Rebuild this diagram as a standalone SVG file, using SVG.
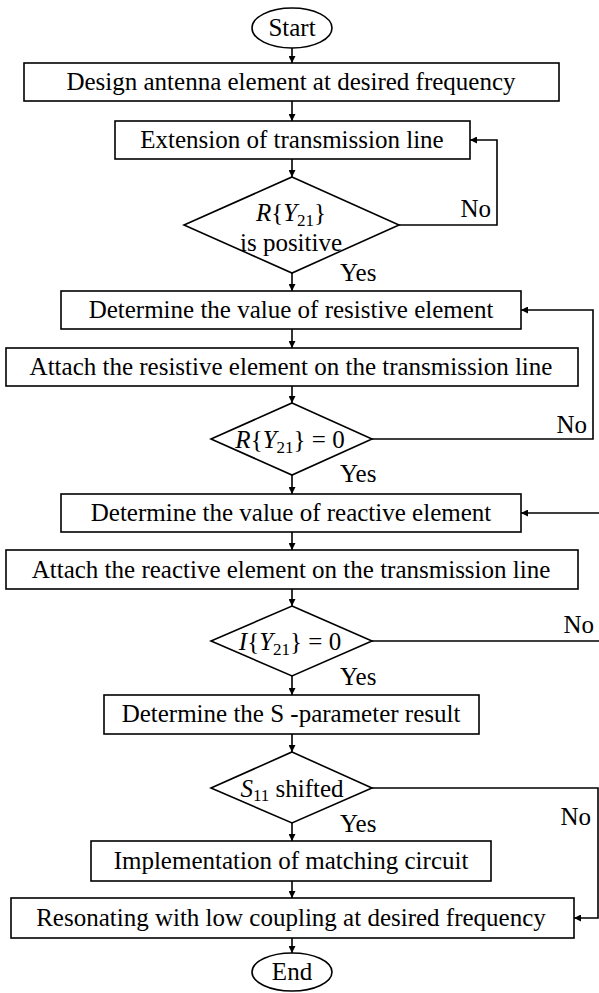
<svg xmlns="http://www.w3.org/2000/svg" width="599" height="993" viewBox="0 0 599 993">
<style>
.n{fill:#fff;stroke:#000;stroke-width:1.6}
.t{font-family:"Liberation Serif","Times New Roman",serif;font-size:25px;fill:#000}
.c{text-anchor:middle}
.l{fill:none;stroke:#000;stroke-width:1.6}
.i{font-style:italic}
</style>
<defs>
<marker id="a" viewBox="0 0 10 10" refX="10" refY="5" markerWidth="7" markerHeight="7" markerUnits="userSpaceOnUse" orient="auto">
<path d="M0,0L10,5L0,10z" fill="#000"/>
</marker>
</defs>
<rect width="599" height="993" fill="#fff"/>
<g id="connectors">
<path class="l" d="M292,48V63" marker-end="url(#a)"/>
<path class="l" d="M292,101V121" marker-end="url(#a)"/>
<path class="l" d="M292,159V177" marker-end="url(#a)"/>
<path class="l" d="M399,225H497V140H470" marker-end="url(#a)"/>
<path class="l" d="M292,273V291" marker-end="url(#a)"/>
<path class="l" d="M292,329V348" marker-end="url(#a)"/>
<path class="l" d="M292,386V403" marker-end="url(#a)"/>
<path class="l" d="M372,439H593V310H521" marker-end="url(#a)"/>
<path class="l" d="M292,475V494" marker-end="url(#a)"/>
<path class="l" d="M292,532V550" marker-end="url(#a)"/>
<path class="l" d="M292,589V606" marker-end="url(#a)"/>
<path class="l" d="M372,641H601V513H521" marker-end="url(#a)"/>
<path class="l" d="M292,676V695" marker-end="url(#a)"/>
<path class="l" d="M292,734V752" marker-end="url(#a)"/>
<path class="l" d="M372,788H598V918H574" marker-end="url(#a)"/>
<path class="l" d="M292,823V841" marker-end="url(#a)"/>
<path class="l" d="M292,881V898" marker-end="url(#a)"/>
<path class="l" d="M292,938V953" marker-end="url(#a)"/>
<text class="t" x="491" y="217" text-anchor="end">No</text>
<text class="t" x="340" y="281">Yes</text>
<text class="t" x="587" y="433" text-anchor="end">No</text>
<text class="t" x="340" y="482">Yes</text>
<text class="t" x="594" y="633" text-anchor="end">No</text>
<text class="t" x="340" y="685">Yes</text>
<text class="t" x="591" y="825" text-anchor="end">No</text>
<text class="t" x="340" y="832">Yes</text>
</g>
<g id="start"><ellipse class="n" cx="292" cy="28" rx="40" ry="20"/><text class="t c" x="292" y="36">Start</text></g>
<g id="design"><rect class="n" x="24" y="63" width="535" height="38"/><text class="t c" x="291" y="90">Design antenna element at desired frequency</text></g>
<g id="extension"><rect class="n" x="115" y="121" width="355" height="38"/><text class="t c" x="292" y="148">Extension of transmission line</text></g>
<g id="dec1"><path class="n" d="M292,177L399,225L292,273L184,225Z"/><text class="t c" x="291" y="221"><tspan class="i">R</tspan>{<tspan class="i">Y</tspan><tspan font-size="17" dy="5">21</tspan><tspan dy="-5">}</tspan></text><text class="t c" x="291" y="251">is positive</text></g>
<g id="resval"><rect class="n" x="61" y="291" width="460" height="38"/><text class="t c" x="291" y="318">Determine the value of resistive element</text></g>
<g id="resattach"><rect class="n" x="6" y="348" width="572" height="38"/><text class="t c" x="291" y="375">Attach the resistive element on the transmission line</text></g>
<g id="dec2"><path class="n" d="M292,403L372,439L292,475L211,439Z"/><text class="t c" x="290" y="448"><tspan class="i">R</tspan>{<tspan class="i">Y</tspan><tspan font-size="17" dy="5">21</tspan><tspan dy="-5">} = 0</tspan></text></g>
<g id="reaval"><rect class="n" x="61" y="494" width="460" height="38"/><text class="t c" x="291" y="521">Determine the value of reactive element</text></g>
<g id="reaattach"><rect class="n" x="6" y="550" width="572" height="39"/><text class="t c" x="291" y="578">Attach the reactive element on the transmission line</text></g>
<g id="dec3"><path class="n" d="M292,606L372,641L292,676L211,641Z"/><text class="t c" x="290" y="650"><tspan class="i">I</tspan>{<tspan class="i">Y</tspan><tspan font-size="17" dy="5">21</tspan><tspan dy="-5">} = 0</tspan></text></g>
<g id="sparam"><rect class="n" x="104" y="695" width="375" height="39"/><text class="t c" x="291" y="722">Determine the S -parameter result</text></g>
<g id="dec4"><path class="n" d="M292,752L372,788L292,823L211,788Z"/><text class="t c" x="292" y="797"><tspan class="i">S</tspan><tspan font-size="17" dy="4">11</tspan><tspan dy="-4"> shifted</tspan></text></g>
<g id="implement"><rect class="n" x="91" y="841" width="400" height="40"/><text class="t c" x="291" y="869">Implementation of matching circuit</text></g>
<g id="resonate"><rect class="n" x="11" y="898" width="563" height="40"/><text class="t c" x="291" y="926">Resonating with low coupling at desired frequency</text></g>
<g id="end"><ellipse class="n" cx="292" cy="972" rx="40" ry="19"/><text class="t c" x="292" y="980">End</text></g>
</svg>
